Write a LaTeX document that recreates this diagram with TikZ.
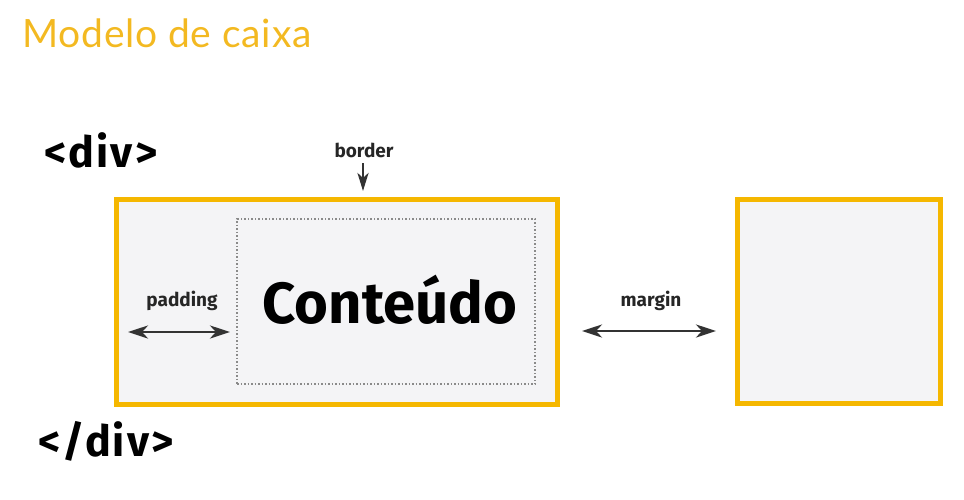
\documentclass[tikz,border=0pt]{standalone}
\usepackage{fontspec}
\setmainfont{Fira Sans}
\newfontfamily\titlefont[LetterSpace=2]{Lato}
\newfontfamily\tagfont[LetterSpace=5]{Fira Sans}
\usetikzlibrary{arrows.meta}
\definecolor{boxyellow}{HTML}{F5B700}
\definecolor{titleyellow}{HTML}{F3B921}
\definecolor{boxfill}{HTML}{F4F4F6}
\definecolor{dotgray}{HTML}{8A8A8A}
\tikzset{
  bigbox/.style={draw=boxyellow, line width=5pt, fill=boxfill, rectangle, inner sep=0pt},
  dotbox/.style={draw=dotgray, dotted, line width=1.5pt, rectangle, inner sep=0pt},
  smalllabel/.style={font=\fontsize{19}{22}\selectfont\bfseries, text=black!85},
  taglabel/.style={font=\tagfont\fontsize{43}{48}\selectfont\bfseries, anchor=base west},
  tip/.tip={Stealth[length=20pt,width=13pt,inset=6pt]},
  dimarrow/.style={line width=2.8pt, black!80, tip-tip},
  downarrow/.style={line width=2.8pt, black!80, -{Stealth[length=18pt,width=11pt,inset=5pt]}}
}
\begin{document}
\begin{tikzpicture}[x=1pt,y=-1pt]
\useasboundingbox (0,0) rectangle (964,499);
\node[anchor=base west, text=titleyellow, font=\titlefont\fontsize{39}{44}\selectfont, inner sep=0pt] (title) at (22,47) {Modelo de caixa};
\node[taglabel, inner sep=0pt] (open) at (44,167) {<div>};
\node[taglabel, inner sep=0pt] (close) at (38,456) {</div>};
\node[bigbox, minimum width=441pt, minimum height=205pt] (outer) at (337,302) {};
\node[bigbox, minimum width=203pt, minimum height=204pt] (right) at (839,301.5) {};
\node[dotbox, minimum width=298pt, minimum height=165pt] (content) at (386,301.5) {};
\node[font=\fontsize{58}{62}\selectfont\bfseries] (ctext) at (390,300) {Conteúdo};
\node[smalllabel] (border) at (364,150) {border};
\coordinate (btop) at (363,163);
\coordinate (btip) at (363,191);
\draw[downarrow] (btop) -- (btip);
\node[smalllabel] (padding) at (182,301) {padding};
\coordinate (pl) at (128,332);
\coordinate (pr) at (230,332);
\draw[dimarrow] (pl) -- (pr);
\node[smalllabel] (margin) at (651,301) {margin};
\coordinate (ml) at (582,331);
\coordinate (mr) at (716,331);
\draw[dimarrow] (ml) -- (mr);
\end{tikzpicture}
\end{document}
